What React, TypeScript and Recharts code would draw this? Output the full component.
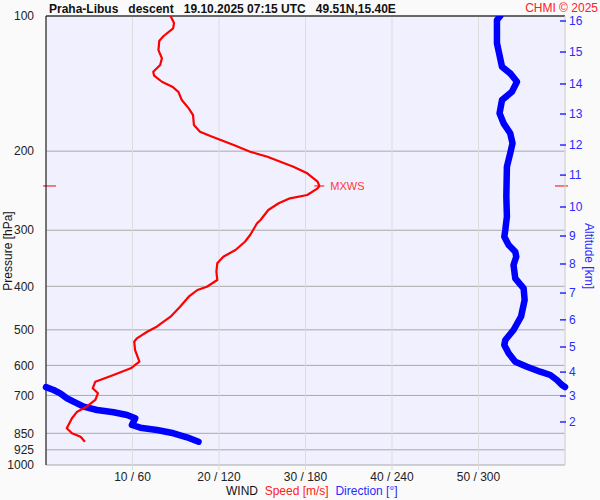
import React from 'react';
import { ScatterChart, Scatter, XAxis, YAxis, CartesianGrid, ReferenceLine, ReferenceDot } from 'recharts';

// wind speed profile: pressure [hPa] and speed [m/s]
const speedPressure = [
  100, 103.7, 106.5, 110.8, 113.5, 119.1, 124.2, 128.6, 133.1, 135.8,
  140.1, 143.7, 147.5, 153.9, 160.6, 166.2, 174.9, 181.0, 185.1, 188.9,
  193.8, 200.6, 205.8, 211.1, 216.6, 224.1, 233.9, 239.1, 242.0, 250.4,
  254.7, 261.3, 270.4, 284.7, 289.5, 307.4, 318.2, 332.0, 343.6, 355.5,
  371.1, 387.3, 400.8, 407.6, 421.9, 444.1, 467.4, 492.0, 504.8, 522.2,
  531.4, 554.5, 588.7, 609.0, 630.3, 652.3, 674.8, 692.3, 716.5, 741.6,
  760.8, 787.0, 828.4, 850.0, 865.0, 887.5,
];
const speedValues = [
  14.4, 14.8, 14.7, 13.6, 13.1, 13.0, 13.4, 13.2, 12.4, 12.5,
  13.4, 14.6, 15.3, 15.7, 16.5, 17.0, 17.1, 17.8, 19.0, 20.2,
  21.7, 23.6, 25.6, 27.1, 28.6, 30.2, 31.4, 31.6, 31.4, 30.2,
  28.2, 26.9, 25.7, 24.8, 24.4, 23.6, 23.0, 21.9, 20.5, 19.8,
  19.7, 19.8, 18.6, 17.5, 16.5, 15.5, 14.4, 12.8, 11.7, 10.5,
  10.2, 10.3, 10.8, 9.8, 7.8, 5.7, 5.4, 6.0, 5.7, 4.7,
  3.6, 3.0, 2.4, 3.0, 4.0, 4.5,
];

// wind direction profile: pressure [hPa] and direction [deg]
const dirPressure = [
  100, 102.1, 115.0, 129.7, 134.2, 140.1, 147.5, 153.9, 164.7, 173.4,
  182.5, 192.1, 202.2, 216.6, 252.6, 279.9, 299.6, 310.1, 323.6, 334.9,
  343.6, 358.6, 383.9, 404.1, 429.1, 467.4, 500.4, 526.7, 540.4, 563.9,
  588.7, 604.0, 619.7, 630.3, 646.7, 663.5, 670.3, 670.8, 680.7, 692.3,
  710.3, 722.8, 741.6, 754.2, 763.2, 773.8, 787.0, 814.5, 825.9, 835.7,
  850.0, 867.7, 887.5,
];
const dirValues = [
  315.1, 312.8, 312.8, 316.3, 322.0, 326.7, 323.2, 316.3, 314.6, 317.4,
  322.0, 323.6, 322.0, 319.7, 319.3, 319.7, 318.6, 317.9, 320.9, 325.5,
  326.2, 324.3, 325.5, 331.3, 332.0, 329.5, 324.3, 318.6, 317.9, 320.9,
  325.5, 333.6, 342.8, 349.8, 354.4, 357.9, 360, 0, 5.3, 9.9,
  14.6, 19.1, 26.1, 35.4, 46.9, 56.2, 61.9, 59.6, 65.4, 77.0,
  88.5, 97.8, 105.8,
];

const pressureTicks = [100, 200, 300, 400, 500, 600, 700, 850, 925, 1000];
const speedTicks = [10, 20, 30, 40, 50];
const dirTicks = [60, 120, 180, 240, 300];
const altitudeKm = [2, 3, 4, 5, 6, 7, 8, 9, 10, 11, 12, 13, 14, 15, 16];
const altitudePressure = [802, 702, 621, 546, 475, 414, 356.7, 309, 266.3, 226.1, 193.8, 165.3, 141.7, 120.3, 102.6];

const FONT = '"Liberation Sans", Arial, sans-serif';
const RED = '#ff0000';
const BLUE = '#0000ff';
const AXIS_BLUE = '#2a2aff';

const speedData = speedPressure.map((p, i) => ({ p, v: speedValues[i] }));

// split direction where it wraps over 360 -> 0
const dirSegments: { p: number; v: number }[][] = [];
let seg: { p: number; v: number }[] = [];
dirPressure.forEach((p, i) => {
  const v = dirValues[i];
  if (seg.length && Math.abs(v - seg[seg.length - 1].v) > 180) {
    dirSegments.push(seg);
    seg = [];
  }
  seg.push({ p, v });
});
dirSegments.push(seg);

const maxIdx = speedValues.indexOf(Math.max(...speedValues));
const maxSpeed = speedValues[maxIdx];
const maxPressure = speedPressure[maxIdx];

const noDot = () => <g />;

const AltTick = ({ x, y, payload }: any) => {
  const km = altitudeKm[altitudePressure.indexOf(payload.value)];
  return (
    <g>
      <line x1={x - 9} x2={x - 3} y1={y} y2={y} stroke={AXIS_BLUE} strokeWidth={1.5} />
      <text x={x} y={y} dy={4} fill={AXIS_BLUE} fontSize={12} fontFamily={FONT}>{km}</text>
    </g>
  );
};

const MaxMark = ({ cx, cy }: any) => (
  <g>
    <line x1={cx - 5} x2={cx + 5} y1={cy} y2={cy} stroke={RED} />
    <text x={cx + 11} y={cy + 4} fill="#ff3a3a" fontSize={11} fontFamily={FONT}>MXWS</text>
  </g>
);

const SideDashes = ({ x1, x2, y1 }: any) => (
  <g>
    <line x1={x1 - 3} x2={x1 + 10} y1={y1} y2={y1} stroke={RED} />
    <line x1={x2 - 10} x2={x2 + 3} y1={y1} y2={y1} stroke={RED} />
  </g>
);

export default function App() {
  return (
    <div style={{ position: 'absolute', left: 0, top: 0, width: 600, height: 500, background: '#fafafa', fontFamily: FONT }}>
      <ScatterChart width={600} height={500} margin={{ top: 16, right: 0, bottom: 0, left: 0 }}>
        <CartesianGrid xAxisId="s" yAxisId="p" vertical={false} horizontal stroke="#a8a8a8" fill="#f0f0ff" />
        <CartesianGrid xAxisId="s" yAxisId="p" vertical horizontal={false} stroke="#dcdcdc" />
        <XAxis
          xAxisId="s"
          type="number"
          dataKey="v"
          domain={[0, 60]}
          ticks={speedTicks}
          interval={0}
          tickFormatter={(v: number, i: number) => `${v} / ${dirTicks[i]}`}
          axisLine={false}
          tickLine={{ stroke: '#dcdcdc' }}
          tickSize={5}
          tickMargin={2}
          height={35}
          tick={{ fill: '#222', fontSize: 12, fontFamily: FONT }}
        />
        <XAxis xAxisId="d" orientation="top" type="number" dataKey="v" domain={[0, 360]} hide />
        <YAxis
          yAxisId="p"
          type="number"
          dataKey="p"
          scale="log"
          domain={[100, 1000]}
          allowDataOverflow
          reversed
          ticks={pressureTicks}
          interval={0}
          width={46}
          axisLine={{ stroke: '#000' }}
          tickLine={false}
          tickMargin={6}
          tick={{ fill: '#222', fontSize: 12, fontFamily: FONT }}
        />
        <YAxis
          yAxisId="alt"
          orientation="right"
          type="number"
          scale="log"
          domain={[100, 1000]}
          allowDataOverflow
          reversed
          ticks={altitudePressure}
          interval={0}
          width={35}
          axisLine={{ stroke: '#d8d8d8' }}
          tickLine={false}
          tickSize={0}
          tickMargin={4}
          tick={<AltTick />}
        />
        <ReferenceLine xAxisId="s" yAxisId="p" y={100} stroke="#000" strokeWidth={1.2} />
        {dirSegments.map((d, i) => (
          <Scatter
            key={`dir-${i}`}
            xAxisId="d"
            yAxisId="p"
            data={d}
            line={{ stroke: BLUE, strokeWidth: 6.5, strokeLinecap: 'round', strokeLinejoin: 'round' }}
            shape={noDot}
            isAnimationActive={false}
          />
        ))}
        <Scatter
          xAxisId="s"
          yAxisId="p"
          data={speedData}
          line={{ stroke: RED, strokeWidth: 2.2, strokeLinejoin: 'round' }}
          shape={noDot}
          isAnimationActive={false}
        />
        <ReferenceLine xAxisId="s" yAxisId="p" y={maxPressure} stroke="none" shape={<SideDashes />} />
        <ReferenceDot xAxisId="s" yAxisId="p" x={maxSpeed} y={maxPressure} shape={<MaxMark />} />
      </ScatterChart>
      <svg width={600} height={500} style={{ position: 'absolute', left: 0, top: 0, pointerEvents: 'none' }}>
        <text x={49} y={13} fontSize={12} fontWeight="bold" fill="#111" fontFamily={FONT} style={{ whiteSpace: 'pre' }}>
          {'Praha-Libus   descent   19.10.2025 07:15 UTC   49.51N,15.40E'}
        </text>
        <text x={598} y={12} fontSize={12} fill="#ff2020" textAnchor="end" fontFamily={FONT}>CHMI © 2025</text>
        <text transform="translate(12,251) rotate(-90)" fontSize={12} fill="#111" textAnchor="middle" fontFamily={FONT}>Pressure [hPa]</text>
        <text transform="translate(585,256) rotate(90)" fontSize={12} fill={AXIS_BLUE} textAnchor="middle" fontFamily={FONT}>Altitude [km]</text>
        <text x={226} y={495} fontSize={12} fontFamily={FONT} style={{ whiteSpace: 'pre' }}>
          <tspan fill="#111">{'WIND  '}</tspan>
          <tspan fill="#ff2020">{'Speed [m/s]  '}</tspan>
          <tspan fill={AXIS_BLUE}>Direction [°]</tspan>
        </text>
      </svg>
    </div>
  );
}
